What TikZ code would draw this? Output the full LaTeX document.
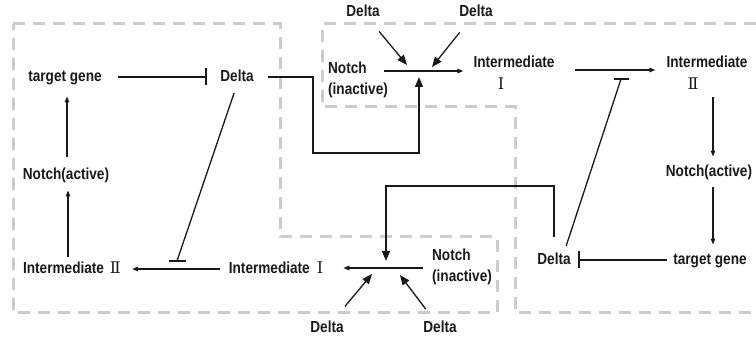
\documentclass[tikz,border=0pt]{standalone}
\usepackage{fontspec}
\setmainfont{Liberation Sans}[FakeStretch=0.85]
\newfontfamily\romfont{DejaVu Serif}
\usetikzlibrary{arrows.meta,calc}
\begin{document}
\begin{tikzpicture}[x=1pt,y=-1pt,
  lbl/.style={font=\fontsize{16}{19}\selectfont\bfseries, text=black!90, inner sep=0pt, text height=11.5pt, text depth=3pt},
  lbl2/.style={font=\fontsize{16}{21}\selectfont\bfseries, text=black!90, inner sep=0pt, align=left},
  num/.style={font=\fontsize{16}{18}\selectfont\romfont, text=black!90, inner sep=0pt},
  conn/.style={line width=1.3pt, draw=black!90},
  small/.style={conn, -{Triangle[length=6pt,width=4.5pt]}},
  big/.style={conn, -{Triangle[length=10pt,width=8pt]}},
  inh/.style={conn, -{Bar[width=17pt,line width=2.2pt]}},
  barline/.style={line width=2.2pt, draw=black!90},
  notchline/.style={line width=2pt, draw=black!90, -{Triangle[length=6pt,width=4.5pt]}},
  region/.style={draw=black!20, line width=3pt, dash pattern=on 12pt off 8pt}
]
\useasboundingbox (0,0) rectangle (756,339);

% regions
\draw[region] (13,24) -- (280,24) -- (280,237) -- (497,237) -- (497,313) -- (13,313) -- cycle;
\draw[region] (756,24) -- (322,24) -- (322,107) -- (515,107) -- (515,313) -- (756,313);

% nodes left cell
\node[lbl] (tgL) at (65,77) {target gene};
\node[lbl] (dL) at (237,77) {Delta};
\node[lbl] (naL) at (66,175) {Notch(active)};
\node[lbl] (i2L) at (72,269) {Intermediate\hspace{6pt}{\romfont\mdseries Ⅱ}};
\node[lbl] (i1B) at (276,269) {Intermediate\hspace{7pt}{\romfont\mdseries Ⅰ}};
\node[lbl2] (nB) at (462,267) {Notch\\(inactive)};
\node[lbl] (dB1) at (327,328) {Delta};
\node[lbl] (dB2) at (440,328) {Delta};

% nodes right cell
\node[lbl2] (nT) at (358,80) {Notch\\(inactive)};
\node[lbl] (dT1) at (363,12) {Delta};
\node[lbl] (dT2) at (476,12) {Delta};
\node[lbl] (i1T) at (514,63) {Intermediate};
\node[num] (i1Tr) at (501,84) {Ⅰ};
\node[lbl] (i2T) at (707,63) {Intermediate};
\node[num] (i2Tr) at (693,84) {Ⅱ};
\node[lbl] (naR) at (709,172) {Notch(active)};
\node[lbl] (tgR) at (710,260) {target gene};
\node[lbl] (dR) at (554,260) {Delta};

% junction coordinates
\coordinate (jTa) at (384,71);
\coordinate (jT) at (419,71);
\coordinate (c1) at (313,153);
\coordinate (tT1) at (407,65);
\coordinate (tT2) at (432,67);
\coordinate (bR) at (621,79);
\coordinate (c2) at (386,186);
\coordinate (jB) at (386,268);
\coordinate (jBa) at (423,268);
\coordinate (tB1) at (372,274);
\coordinate (tB2) at (400,275);
\coordinate (bB) at (177,261);

% top row
\draw[inh, shorten <=16pt, shorten >=13pt] (tgL.east) -- (dL.west);
\draw[big, shorten <=14pt, shorten >=6pt] (dL.east) -| (c1) -| (jT);
\draw[notchline, shorten >=10pt] (jTa) -- (jTa -| i1T.west);
\draw[big, shorten <=15.6pt] (dT1) -- (tT1);
\draw[big, shorten <=16.5pt] (dT2) -- (tT2);
\draw[small, shorten <=20pt, shorten >=11pt] ([yshift=-7pt]i1T.east) -- ([yshift=-7pt]i2T.west);
\draw[conn, shorten <=7pt] ([xshift=10pt]dR.north) -- (bR);
\draw[barline] ([xshift=-7.5pt]bR) -- ([xshift=7.5pt]bR);

% right column
\draw[small, shorten <=27pt, shorten >=8pt] ([xshift=6pt]i2T.south) -- ([xshift=4pt]naR.north);
\draw[small, shorten <=8pt, shorten >=8pt] ([xshift=4pt]naR.south) -- ([xshift=3pt]tgR.north);
\draw[inh, shorten <=6pt, shorten >=7pt] (tgR.west) -- (dR.east);

% bottom row
\draw[big, shorten <=16pt, shorten >=7pt] (dR.north) |- (c2) -- (jB);
\draw[notchline, shorten >=20pt] (jBa) -- (jBa -| i1B.east);
\draw[big, shorten <=18.4pt] (dB1) -- (tB1);
\draw[big, shorten <=14.6pt] (dB2) -- (tB2);
\draw[small, shorten <=9pt, shorten >=11pt] (i1B.west) -- (i2L.east);
\draw[conn, shorten <=9pt] (dL.south) -- (bB);
\draw[barline] ([xshift=-8.5pt]bB) -- ([xshift=8.5pt]bB);

% left column
\draw[small, shorten <=5pt, shorten >=8pt] ([xshift=-4pt]i2L.north) -- ([xshift=2pt]naL.south);
\draw[small, shorten <=11pt, shorten >=12pt] ([xshift=1pt]naL.north) -- ([xshift=2pt]tgL.south);
\end{tikzpicture}
\end{document}
